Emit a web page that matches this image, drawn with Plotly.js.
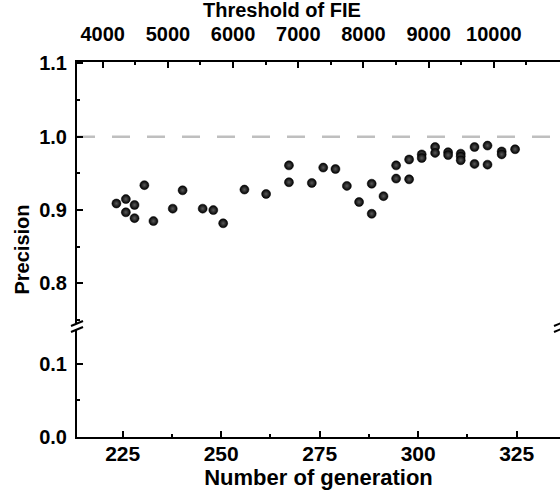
<!DOCTYPE html>
<html>
<head>
<meta charset="utf-8">
<script src="https://cdn.plot.ly/plotly-3.0.1.min.js"></script>
<style>html,body{margin:0;padding:0;background:#fff;}#chart{width:560px;height:497px;}</style>
</head>
<body>
<div id="chart"></div>
<script>
// Number of generation (bottom axis)
const generation = [223.4, 225.8, 228.0, 225.8, 228.0, 230.5, 232.8, 237.7, 240.2, 245.3, 248.0, 250.5,
  255.9, 261.4, 267.2, 267.2, 273.0, 275.9, 279.0, 281.9, 285.0, 288.2, 288.2, 291.2,
  294.4, 294.4, 297.7, 297.7, 300.9, 300.9, 304.3, 304.3, 307.6, 307.6, 310.8, 310.8, 310.8,
  314.3, 314.3, 317.6, 317.6, 321.2, 321.2, 324.6];
// Precision values
const precision = [0.909, 0.915, 0.907, 0.897, 0.889, 0.934, 0.885, 0.902, 0.927, 0.902, 0.900, 0.882,
  0.928, 0.922, 0.961, 0.938, 0.937, 0.958, 0.956, 0.933, 0.911, 0.895, 0.936, 0.919,
  0.961, 0.943, 0.969, 0.942, 0.976, 0.971, 0.986, 0.978, 0.979, 0.975, 0.977, 0.973, 0.968,
  0.986, 0.963, 0.988, 0.962, 0.980, 0.976, 0.983];
// Tick labels
const genTicks = [225, 250, 275, 300, 325];
const fieTicks = [4000, 5000, 6000, 7000, 8000, 9000, 10000];
const lowerTicks = [0.0, 0.1];
const upperTicks = [0.8, 0.9, 1.0, 1.1];
const referenceLine = 1.0;

const FONT = 'Liberation Sans, Arial, sans-serif';
const tickfont = {family: FONT, size: 20, color: '#000', weight: 'bold'};
const titlefont = {family: FONT, size: 20, color: '#000', weight: 'bold'};

const traces = [
  {type: 'scatter', mode: 'markers', x: [], y: [], xaxis: 'x', yaxis: 'y', showlegend: false, hoverinfo: 'skip'},
  {type: 'scatter', mode: 'markers', x: [], y: [], xaxis: 'x3', yaxis: 'y2', showlegend: false, hoverinfo: 'skip'},
  {
    type: 'scatter', mode: 'markers',
    x: generation, y: precision, xaxis: 'x', yaxis: 'y2',
    marker: {size: 9, color: '#000', gradient: {type: 'radial', color: '#5a5a5a'},
             line: {width: 0.5, color: '#000'}},
    hoverinfo: 'x+y', showlegend: false
  }
];

const axisCommon = {
  showline: true, linecolor: '#000', linewidth: 2,
  ticks: 'inside', ticklen: 6, tickwidth: 2, tickcolor: '#000',
  showgrid: false, zeroline: false, tickfont: tickfont
};

const layout = {
  width: 560, height: 497,
  margin: {l: 77, r: 0, t: 62, b: 60},
  paper_bgcolor: '#fff', plot_bgcolor: '#fff',
  showlegend: false,
  xaxis: Object.assign({}, axisCommon, {
    domain: [0, 1], anchor: 'y', range: [213.4, 336.0],
    tickmode: 'array', tickvals: genTicks, ticktext: genTicks.map(String),
    tickfont: Object.assign({}, tickfont, {size: 21}),
    minor: {ticks: 'inside', ticklen: 3, tickwidth: 2, tickcolor: '#000', dtick: 12.5, tick0: 212.5},
    title: {text: 'Number of generation', font: Object.assign({}, titlefont, {size: 22}), standoff: 2},
    ticklabelstandoff: -3
  }),
  xaxis3: Object.assign({}, axisCommon, {
    overlaying: 'x', side: 'top', anchor: 'y2', range: [3606, 11014],
    tickmode: 'array', tickvals: fieTicks, ticktext: fieTicks.map(String),
    minor: {ticks: 'inside', ticklen: 3, tickwidth: 2, tickcolor: '#000', dtick: 500, tick0: 3500},
    ticklabelstandoff: 11
  }),
  yaxis: Object.assign({}, axisCommon, {
    domain: [0, 0.288], anchor: 'x', range: [0, 0.147],
    tickmode: 'array', tickvals: lowerTicks, ticktext: lowerTicks.map(v => v.toFixed(1)),
    minor: {ticks: 'inside', ticklen: 3, tickwidth: 2, tickcolor: '#000', dtick: 0.05, tick0: 0},
    ticklabelstandoff: 4
  }),
  yaxis2: Object.assign({}, axisCommon, {
    domain: [0.304, 1], anchor: 'x', range: [0.746, 1.102],
    tickmode: 'array', tickvals: upperTicks, ticktext: upperTicks.map(v => v.toFixed(1)),
    minor: {ticks: 'inside', ticklen: 3, tickwidth: 2, tickcolor: '#000', dtick: 0.05, tick0: 0.75},
    ticklabelstandoff: 4
  }),
  shapes: [
    {type: 'line', xref: 'paper', x0: 0, x1: 1, yref: 'y2', y0: referenceLine, y1: referenceLine,
     line: {color: '#bfbfbf', width: 2.5, dash: '18px,17px'}, layer: 'below'},
    {type: 'line', xref: 'paper', xsizemode: 'pixel', xanchor: 0, x0: -6, x1: 6,
     yref: 'paper', ysizemode: 'pixel', yanchor: 0.304, y0: -3, y1: 2, line: {color: '#000', width: 2}},
    {type: 'line', xref: 'paper', xsizemode: 'pixel', xanchor: 0, x0: -6, x1: 6,
     yref: 'paper', ysizemode: 'pixel', yanchor: 0.288, y0: -3, y1: 2, line: {color: '#000', width: 2}},
    {type: 'line', xref: 'paper', xsizemode: 'pixel', xanchor: 1, x0: -6, x1: 6,
     yref: 'paper', ysizemode: 'pixel', yanchor: 0.304, y0: -3, y1: 2, line: {color: '#000', width: 2}},
    {type: 'line', xref: 'paper', xsizemode: 'pixel', xanchor: 1, x0: -6, x1: 6,
     yref: 'paper', ysizemode: 'pixel', yanchor: 0.288, y0: -3, y1: 2, line: {color: '#000', width: 2}}
  ],
  annotations: [
    {text: 'Precision', xref: 'paper', yref: 'paper', x: 0, y: 0.5, xshift: -56,
     textangle: -90, showarrow: false, font: titlefont, xanchor: 'center', yanchor: 'middle'},
    {text: 'Threshold of FIE', xref: 'paper', yref: 'paper', x: (282 - 77) / 483, y: 1, yshift: 52,
     showarrow: false, font: titlefont, xanchor: 'center', yanchor: 'middle'}
  ]
};

Plotly.newPlot('chart', traces, layout, {displayModeBar: false, staticPlot: true});
</script>
</body>
</html>
